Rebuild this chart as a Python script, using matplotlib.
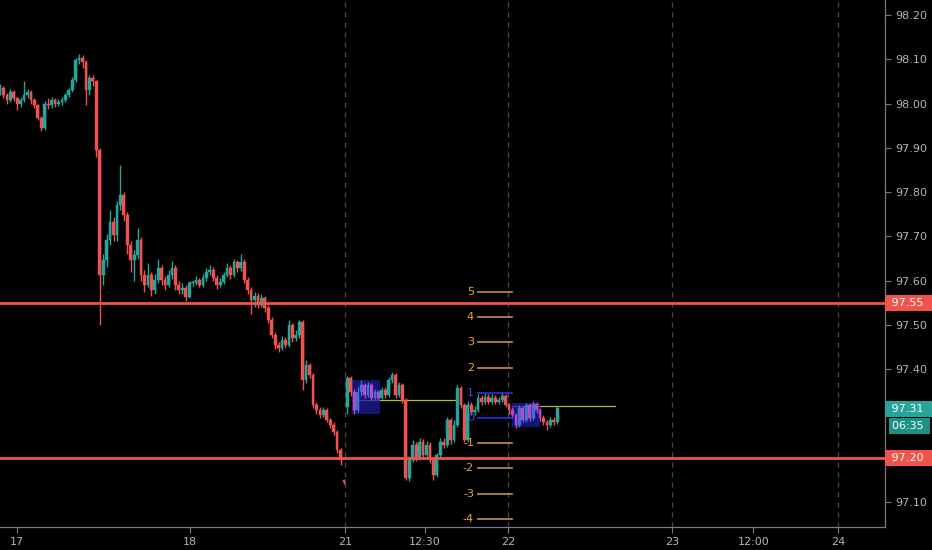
import matplotlib
matplotlib.use('Agg')
import matplotlib.pyplot as plt
from matplotlib.patches import Rectangle
from matplotlib.transforms import blended_transform_factory

# ---------------- data (30-min candles) ----------------
closes = [
    98.035, 98.020, 98.008, 98.026, 98.012, 98.000, 98.008, 98.020, 98.026, 98.008,
    97.997, 97.968, 97.945, 98.000, 97.996, 98.008, 97.999, 98.003, 98.008, 98.020,
    98.031, 98.053, 98.098, 98.103, 98.094, 98.031, 98.058, 98.050, 97.895, 97.613,
    97.647, 97.692, 97.733, 97.704, 97.771, 97.794, 97.749, 97.681, 97.647, 97.658,
    97.692, 97.613, 97.591, 97.613, 97.579, 97.602, 97.629, 97.602, 97.591, 97.613,
    97.629, 97.591, 97.579, 97.584, 97.563, 97.595, 97.595, 97.602, 97.591, 97.607,
    97.620, 97.625, 97.607, 97.591, 97.598, 97.613, 97.629, 97.613, 97.643, 97.629,
    97.643, 97.602, 97.579, 97.557, 97.566, 97.545, 97.561, 97.539, 97.512, 97.478,
    97.455, 97.449, 97.466, 97.455, 97.500, 97.471, 97.478, 97.507, 97.376, 97.410,
    97.387, 97.320, 97.308, 97.297, 97.308, 97.286, 97.275, 97.259, 97.218, 97.196,
    97.145, 97.381, 97.349, 97.308, 97.349, 97.365, 97.342, 97.365, 97.336, 97.349,
    97.336, 97.354, 97.342, 97.376, 97.387, 97.342, 97.365, 97.331, 97.155, 97.196,
    97.230, 97.200, 97.237, 97.207, 97.230, 97.196, 97.162, 97.207, 97.237, 97.230,
    97.286, 97.241, 97.275, 97.358, 97.320, 97.241, 97.320, 97.304, 97.308, 97.336,
    97.327, 97.338, 97.327, 97.336, 97.327, 97.331, 97.340, 97.320, 97.308, 97.297,
    97.275, 97.313, 97.286, 97.320, 97.290, 97.322, 97.308, 97.290, 97.281, 97.275,
    97.286, 97.281, 97.312]

highs = [
    98.045, 98.040, 98.025, 98.032, 98.030, 98.015, 98.014, 98.050, 98.032, 98.030,
    98.012, 98.000, 97.972, 98.005, 98.012, 98.014, 98.012, 98.010, 98.014, 98.024,
    98.036, 98.060, 98.104, 98.112, 98.110, 98.098, 98.064, 98.064, 98.054, 97.900,
    97.660, 97.705, 97.760, 97.745, 97.780, 97.861, 97.800, 97.755, 97.690, 97.670,
    97.720, 97.698, 97.625, 97.640, 97.620, 97.615, 97.650, 97.635, 97.610, 97.625,
    97.645, 97.635, 97.600, 97.595, 97.590, 97.600, 97.602, 97.610, 97.606, 97.615,
    97.628, 97.636, 97.630, 97.612, 97.606, 97.620, 97.640, 97.635, 97.650, 97.648,
    97.660, 97.650, 97.608, 97.585, 97.575, 97.572, 97.570, 97.566, 97.545, 97.518,
    97.484, 97.462, 97.475, 97.472, 97.512, 97.505, 97.488, 97.512, 97.512, 97.420,
    97.415, 97.392, 97.326, 97.314, 97.315, 97.312, 97.290, 97.280, 97.264, 97.222,
    97.152, 97.386, 97.385, 97.355, 97.360, 97.375, 97.370, 97.372, 97.370, 97.356,
    97.354, 97.360, 97.360, 97.382, 97.394, 97.392, 97.372, 97.370, 97.336, 97.205,
    97.240, 97.236, 97.245, 97.242, 97.238, 97.235, 97.200, 97.212, 97.245, 97.245,
    97.292, 97.290, 97.285, 97.365, 97.362, 97.325, 97.328, 97.326, 97.318, 97.345,
    97.342, 97.346, 97.344, 97.344, 97.342, 97.338, 97.348, 97.344, 97.325, 97.314,
    97.302, 97.320, 97.318, 97.325, 97.324, 97.328, 97.326, 97.312, 97.296, 97.286,
    97.292, 97.292, 97.318]

lows = [
    98.020, 98.012, 98.000, 98.004, 98.005, 97.985, 97.992, 98.004, 98.012, 98.000,
    97.990, 97.962, 97.938, 97.940, 97.988, 97.990, 97.993, 97.994, 97.998, 98.004,
    98.016, 98.026, 98.048, 98.090, 98.080, 97.998, 98.020, 98.040, 97.880, 97.500,
    97.590, 97.630, 97.680, 97.690, 97.690, 97.760, 97.735, 97.660, 97.620, 97.600,
    97.650, 97.600, 97.575, 97.585, 97.565, 97.570, 97.595, 97.590, 97.580, 97.585,
    97.605, 97.580, 97.570, 97.570, 97.555, 97.560, 97.588, 97.590, 97.585, 97.586,
    97.600, 97.612, 97.600, 97.582, 97.585, 97.592, 97.608, 97.605, 97.608, 97.620,
    97.622, 97.595, 97.570, 97.525, 97.540, 97.538, 97.540, 97.530, 97.505, 97.470,
    97.445, 97.440, 97.444, 97.448, 97.450, 97.462, 97.465, 97.470, 97.354, 97.370,
    97.380, 97.312, 97.300, 97.290, 97.292, 97.280, 97.268, 97.252, 97.210, 97.184,
    97.140, 97.300, 97.340, 97.300, 97.304, 97.340, 97.336, 97.338, 97.330, 97.330,
    97.330, 97.332, 97.336, 97.338, 97.370, 97.336, 97.338, 97.325, 97.150, 97.148,
    97.190, 97.192, 97.195, 97.200, 97.200, 97.188, 97.150, 97.158, 97.200, 97.222,
    97.225, 97.232, 97.236, 97.270, 97.312, 97.236, 97.236, 97.298, 97.298, 97.304,
    97.320, 97.322, 97.322, 97.322, 97.322, 97.322, 97.326, 97.314, 97.300, 97.290,
    97.268, 97.270, 97.280, 97.282, 97.284, 97.286, 97.302, 97.284, 97.274, 97.262,
    97.270, 97.274, 97.276]

first_open = 98.030
gap_opens = {100: 97.150, 101: 97.315}

x_tick_pos = [5.0, 55.2, 100.3, 123.6, 147.7, 195.3, 219.0, 243.6]
x_tick_labels = ['17', '18', '21', '12:30', '22', '23', '12:00', '24']
day_lines = [100.3, 147.7, 195.3, 243.6]
y_ticks = [97.10, 97.20, 97.30, 97.40, 97.50, 97.60, 97.70, 97.80, 97.90, 98.00, 98.10, 98.20]
y_tick_labels = ['97.10', '', '', '97.40', '97.50', '97.60', '97.70', '97.80',
                 '97.90', '98.00', '98.10', '98.20']
level_lines = [97.55, 97.20]
level_labels = ['97.55', '97.20']
last_price = 97.31
last_label = '97.31'
countdown = '06:35'

fib_levels = [5, 4, 3, 2, 1, 0, -1, -2, -3, -4]
fib_base = 97.290
fib_step = 0.0569
fib_x = (139.0, 148.8)

boxes = [(102.3, 110.5, 97.300, 97.375), (148.8, 157.0, 97.270, 97.323)]
box_bars = [(103, 110), (149, 157)]
olive_lines = [(102.3, 133.1, 97.331), (148.8, 178.8, 97.317)]

# ---------------- styles ----------------
UP = '#26a69a'
DN = '#ef5350'
BOX_UP = '#3f6fd8'
BOX_DN = '#b04cc8'
TXT = '#b2b5be'
AXC = '#787b86'

fig = plt.figure(figsize=(9.32, 5.5), dpi=100, facecolor='black')
ax = fig.add_axes([0.0, 23 / 550, 885 / 932, 527 / 550])
ax.set_facecolor('black')

opens = [first_open] + closes[:-1]
for k, v in gap_opens.items():
    opens[k] = v

def in_box(i):
    return any(a <= i <= b for a, b in box_bars)

for i, (o, h, l, c) in enumerate(zip(opens, highs, lows, closes)):
    up = c >= o
    if in_box(i):
        col = BOX_UP if up else BOX_DN
    else:
        col = UP if up else DN
    ax.vlines(i, l, h, color=col, linewidth=1.0, zorder=3)
    bottom = min(o, c)
    height = max(abs(c - o), 0.0015)
    ax.bar(i, height, bottom=bottom, width=0.8, color=col, edgecolor=col,
           linewidth=0.3, zorder=3)

# day separators
for xv in day_lines:
    ax.axvline(xv, color='#4a4a4a', linewidth=0.9, linestyle=(0, (4, 4)), zorder=1)

# horizontal levels
for lv in level_lines:
    ax.axhline(lv, color='#f0524c', linewidth=2.0, zorder=4)

# boxes and olive lines
for x0, x1, yv in olive_lines:
    ax.plot([x0, x1], [yv, yv], color='#b8b83a', linewidth=0.9, zorder=2)
for x0, x1, y0, y1 in boxes:
    ax.add_patch(Rectangle((x0, y0), x1 - x0, y1 - y0, facecolor='#1c1c9c',
                           edgecolor='none', alpha=0.75, zorder=2))

# fib-like levels
for lv in fib_levels:
    yv = fib_base + lv * fib_step
    if lv in (0, 1):
        lc, tc = '#2a2ad8', '#3a4ae0'
    else:
        lc, tc = '#b0844a', '#f0a030'
    ax.plot(list(fib_x), [yv, yv], color=lc, linewidth=1.3, zorder=5)
    ax.text(fib_x[0] - 1.2, yv, str(lv), color=tc, fontsize=8, ha='right',
            va='center', zorder=5)

# axes setup
ax.set_xlim(0, 257.3)
ax.set_ylim(97.044, 98.234)
ax.yaxis.tick_right()
ax.set_yticks(y_ticks)
ax.set_yticklabels(y_tick_labels)
ax.set_xticks(x_tick_pos)
ax.set_xticklabels(x_tick_labels)
ax.tick_params(axis='both', colors=AXC, labelcolor=TXT, labelsize=8, length=4, width=0.8)
ax.tick_params(axis='x', pad=3)
for s in ['top', 'left']:
    ax.spines[s].set_visible(False)
for s in ['right', 'bottom']:
    ax.spines[s].set_color(AXC)
    ax.spines[s].set_linewidth(0.9)

tr = blended_transform_factory(ax.transAxes, ax.transData)
for lv, lab in zip(level_lines, level_labels):
    ax.text(1.003, lv, ' ' + lab + '  ', transform=tr, color='white', fontsize=8,
            ha='left', va='center', clip_on=False, zorder=6,
            bbox=dict(boxstyle='square,pad=0.25', fc='#f0524c', ec='none'))
ax.text(1.003, last_price, ' ' + last_label + '  ', transform=tr, color='white',
        fontsize=8, ha='left', va='center', clip_on=False, zorder=6,
        bbox=dict(boxstyle='square,pad=0.25', fc='#26a69a', ec='none'))
ax.annotate(countdown + ' ', xy=(1.0, last_price), xycoords=tr, xytext=(5, -12),
            textcoords='offset points', color='white', fontsize=8, ha='left',
            va='center', annotation_clip=False, zorder=6,
            bbox=dict(boxstyle='square,pad=0.25', fc='#1e9086', ec='none'))

fig.savefig('out.png', dpi=100, facecolor='black')
